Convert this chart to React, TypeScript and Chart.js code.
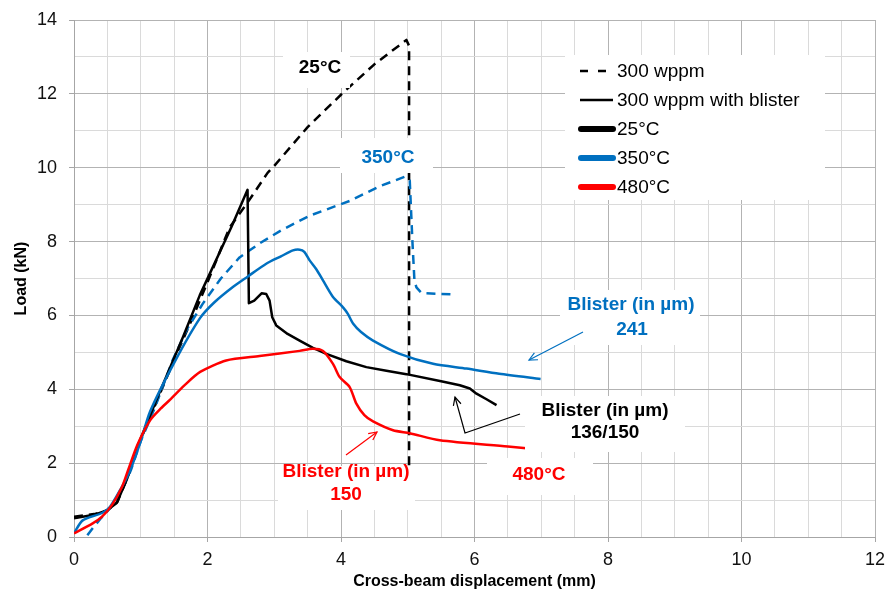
import React, { useEffect, useRef } from 'react';
import { Chart, registerables } from 'chart.js';

Chart.register(...registerables);

// ---------- data ----------
const xTickLabels = [0, 2, 4, 6, 8, 10, 12];
const yTickLabels = [0, 2, 4, 6, 8, 10, 12, 14];

// 25°C, 300 wppm (dashed black)
const dashed25X = [0.0, 0.3, 0.5, 0.65, 0.8, 0.95, 1.29, 1.54, 1.78, 2.03, 2.33, 2.59, 2.9, 3.0, 3.5, 4.03, 4.5, 4.98, 5.02, 5.02];
const dashed25Y = [0.55, 0.62, 0.72, 0.95, 1.6, 2.43, 3.89, 4.97, 5.95, 7.03, 8.38, 9.03, 9.86, 10.05, 11.1, 12.03, 12.8, 13.46, 13.3, 1.85];

// 350°C, 300 wppm (dashed blue)
const dashed350X = [0.2, 0.28, 0.4, 0.55, 0.7, 0.85, 1.0, 1.2, 1.48, 1.7, 1.93, 2.2, 2.48, 2.78, 3.1, 3.53, 4.13, 4.58, 4.95, 5.03, 5.07, 5.1, 5.13, 5.2, 5.28, 5.67];
const dashed350Y = [0.05, 0.24, 0.5, 0.8, 1.2, 1.8, 2.6, 3.45, 4.8, 5.65, 6.32, 7.0, 7.57, 7.95, 8.3, 8.7, 9.1, 9.5, 9.75, 9.65, 8.0, 6.95, 6.76, 6.62, 6.6, 6.57];

// 25°C, 300 wppm with blister (solid black)
const blister25X = [0.0, 0.3, 0.49, 0.64, 0.8, 0.95, 1.29, 1.63, 1.885, 2.36, 2.6, 2.62, 2.7, 2.81, 2.88, 2.93, 2.97, 3.03, 3.2, 3.38, 3.58, 3.78, 4.08, 4.38, 4.68, 4.98, 5.5, 5.78, 5.93, 6.03, 6.18, 6.33];
const blister25Y = [0.51, 0.6, 0.72, 0.92, 1.6, 2.45, 3.95, 5.4, 6.55, 8.4, 9.4, 6.33, 6.4, 6.6, 6.58, 6.4, 5.95, 5.73, 5.5, 5.32, 5.12, 4.96, 4.76, 4.6, 4.5, 4.41, 4.22, 4.11, 4.02, 3.88, 3.73, 3.57];

// 350°C, 300 wppm with blister (solid blue)
const blister350X = [0.0, 0.13, 0.42, 0.54, 0.7, 0.84, 1.0, 1.14, 1.51, 1.885, 2.1, 2.38, 2.6, 2.88, 3.1, 3.28, 3.38, 3.45, 3.53, 3.63, 3.73, 3.88, 4.03, 4.1, 4.18, 4.3, 4.48, 4.88, 5.38, 5.88, 6.37, 6.99];
const blister350Y = [0.1, 0.45, 0.65, 0.82, 1.3, 1.8, 2.6, 3.4, 4.75, 5.92, 6.35, 6.77, 7.05, 7.4, 7.6, 7.76, 7.78, 7.72, 7.49, 7.25, 6.95, 6.5, 6.22, 6.05, 5.78, 5.55, 5.32, 4.96, 4.69, 4.56, 4.42, 4.28];

// 480°C, 300 wppm with blister (solid red)
const blister480X = [0.0, 0.28, 0.42, 0.57, 0.72, 0.81, 0.95, 1.14, 1.3, 1.44, 1.65, 1.89, 2.28, 2.78, 3.38, 3.58, 3.73, 3.88, 3.98, 4.13, 4.23, 4.35, 4.48, 4.78, 5.03, 5.48, 6.5, 7.05];
const blister480Y = [0.1, 0.37, 0.55, 0.87, 1.36, 1.81, 2.5, 3.16, 3.48, 3.72, 4.1, 4.47, 4.78, 4.9, 5.04, 5.1, 5.04, 4.69, 4.33, 4.06, 3.61, 3.3, 3.13, 2.89, 2.81, 2.62, 2.45, 2.35];

const legendLabels = ['300 wppm', '300 wppm with blister', '25°C', '350°C', '480°C'];

// ---------- styles ----------
const FONT = '"Liberation Sans", Arial, sans-serif';
const BLACK = '#000000';
const BLUE = '#0070C0';
const RED = '#FF0000';
const MAJOR_GRID = '#b3b3b3';
const MINOR_GRID = '#dadada';
const AXIS = '#a6a6a6';

const zip = (xs: number[], ys: number[]) => xs.map((x, i) => ({ x, y: ys[i] }));

function arrowHead(ctx: CanvasRenderingContext2D, fx: number, fy: number, tx: number, ty: number, len = 9) {
  const a = Math.atan2(ty - fy, tx - fx);
  const s = 0.45;
  ctx.beginPath();
  ctx.moveTo(tx - len * Math.cos(a - s), ty - len * Math.sin(a - s));
  ctx.lineTo(tx, ty);
  ctx.lineTo(tx - len * Math.cos(a + s), ty - len * Math.sin(a + s));
  ctx.stroke();
}

const overlayPlugin = {
  id: 'overlay',
  afterDraw(chart: any) {
    const ctx: CanvasRenderingContext2D = chart.ctx;
    ctx.save();

    // ----- legend -----
    ctx.fillStyle = '#ffffff';
    ctx.fillRect(565, 55, 260, 145);
    const rows = [71, 100, 129, 158, 187];
    const lx0 = 580, lx1 = 613, tx = 617;
    ctx.strokeStyle = BLACK;
    ctx.lineWidth = 2.5;
    ctx.setLineDash([8, 10]);
    ctx.beginPath(); ctx.moveTo(lx0, rows[0]); ctx.lineTo(607, rows[0]); ctx.stroke();
    ctx.setLineDash([]);
    ctx.beginPath(); ctx.moveTo(lx0, rows[1]); ctx.lineTo(lx1, rows[1]); ctx.stroke();
    const thick = [BLACK, BLUE, RED];
    ctx.lineWidth = 6;
    ctx.lineCap = 'round';
    thick.forEach((c, i) => {
      ctx.strokeStyle = c;
      ctx.beginPath(); ctx.moveTo(lx0 + 1, rows[2 + i]); ctx.lineTo(lx1, rows[2 + i]); ctx.stroke();
    });
    ctx.lineCap = 'butt';
    ctx.fillStyle = BLACK;
    ctx.font = `19px ${FONT}`;
    ctx.textAlign = 'left';
    ctx.textBaseline = 'middle';
    legendLabels.forEach((t, i) => ctx.fillText(t, tx, rows[i] + 1));

    // ----- annotation boxes -----
    const boxes: [number, number, number, number][] = [
      [283, 52, 67, 36],   // 25°C
      [340, 138, 93, 35],  // 350°C
      [560, 290, 140, 55], // blister blue
      [525, 396, 160, 56], // blister black
      [487, 458, 106, 37], // 480°C
      [278, 466, 137, 44], // blister red
    ];
    ctx.fillStyle = '#ffffff';
    boxes.forEach(([x, y, w, h]) => ctx.fillRect(x, y, w, h));

    ctx.font = `bold 19px ${FONT}`;
    ctx.textAlign = 'center';
    ctx.textBaseline = 'middle';
    const texts: [string, number, number, string][] = [
      ['25°C', 320, 68, BLACK],
      ['350°C', 388, 158, BLUE],
      ['Blister (in µm)', 631, 305, BLUE],
      ['241', 632, 330, BLUE],
      ['Blister (in µm)', 605, 411, BLACK],
      ['136/150', 605, 433, BLACK],
      ['480°C', 539, 475, RED],
      ['Blister (in µm)', 346, 472, RED],
      ['150', 346, 495, RED],
    ];
    texts.forEach(([t, x, y, c]) => { ctx.fillStyle = c; ctx.fillText(t, x, y); });

    // ----- arrows -----
    ctx.lineWidth = 1.2;
    ctx.strokeStyle = RED;
    ctx.beginPath(); ctx.moveTo(346, 455); ctx.lineTo(377, 432); ctx.stroke();
    arrowHead(ctx, 346, 455, 377, 432);
    ctx.strokeStyle = BLUE;
    ctx.beginPath(); ctx.moveTo(583, 332); ctx.lineTo(529, 360); ctx.stroke();
    arrowHead(ctx, 583, 332, 529, 360);
    ctx.strokeStyle = BLACK;
    ctx.beginPath(); ctx.moveTo(520, 414); ctx.lineTo(465, 433); ctx.lineTo(455, 397); ctx.stroke();
    arrowHead(ctx, 465, 433, 455, 397);

    // ----- axis titles -----
    ctx.fillStyle = BLACK;
    ctx.font = `bold 16px ${FONT}`;
    ctx.textAlign = 'center';
    ctx.textBaseline = 'middle';
    const ca = chart.chartArea;
    ctx.fillText('Cross-beam displacement (mm)', (ca.left + ca.right) / 2, 582);
    ctx.translate(22, (ca.top + ca.bottom) / 2);
    ctx.rotate(-Math.PI / 2);
    ctx.fillText('Load (kN)', 0, 0);
    ctx.restore();
  },
};

export default function App() {
  const ref = useRef<HTMLCanvasElement | null>(null);

  useEffect(() => {
    if (!ref.current) return;
    const line = (data: any, color: string, dashed: boolean, tension: number) => ({
      data,
      borderColor: color,
      backgroundColor: color,
      borderWidth: 2.5,
      borderDash: dashed ? [9, 6] : [],
      pointRadius: 0,
      tension,
      fill: false,
      borderJoinStyle: 'round' as const,
    });
    const chart = new Chart(ref.current, {
      type: 'line',
      data: {
        datasets: [
          line(zip(blister480X, blister480Y), RED, false, 0.25),
          line(zip(blister350X, blister350Y), BLUE, false, 0.25),
          line(zip(blister25X, blister25Y), BLACK, false, 0),
          line(zip(dashed350X, dashed350Y), BLUE, true, 0),
          line(zip(dashed25X, dashed25Y), BLACK, true, 0),
        ],
      },
      options: {
        animation: false,
        responsive: true,
        maintainAspectRatio: false,
        devicePixelRatio: 1,
        events: [],
        layout: { padding: { left: 0, right: 14, top: 20, bottom: 0 } },
        plugins: { legend: { display: false }, tooltip: { enabled: false } },
        scales: {
          x: {
            type: 'linear',
            min: 0,
            max: 12,
            afterFit: (s: any) => { s.height = 61; s.paddingRight = 0; s.paddingLeft = 0; },
            ticks: {
              stepSize: 0.5,
              autoSkip: false,
              maxRotation: 0,
              minRotation: 0,
              padding: 7,
              color: '#111',
              font: { family: FONT, size: 18 },
              callback: (v: any) => (xTickLabels.includes(Number(v)) ? String(v) : ''),
            },
            grid: {
              color: (c: any) => (xTickLabels.includes(c.tick?.value) ? MAJOR_GRID : MINOR_GRID),
              tickColor: (c: any) => (xTickLabels.includes(c.tick?.value) ? AXIS : 'rgba(0,0,0,0)'),
              tickLength: 5,
              lineWidth: 1,
            },
            border: { color: AXIS, width: 1 },
          },
          y: {
            type: 'linear',
            min: 0,
            max: 14,
            afterFit: (s: any) => { s.width = 74; s.paddingTop = 0; s.paddingBottom = 0; },
            ticks: {
              stepSize: 1,
              autoSkip: false,
              padding: 12,
              color: '#111',
              font: { family: FONT, size: 18 },
              callback: (v: any) => (yTickLabels.includes(Number(v)) ? String(v) : ''),
            },
            grid: {
              color: (c: any) => (yTickLabels.includes(c.tick?.value) ? MAJOR_GRID : MINOR_GRID),
              tickColor: (c: any) => (yTickLabels.includes(c.tick?.value) ? AXIS : 'rgba(0,0,0,0)'),
              tickLength: 5,
              lineWidth: 1,
            },
            border: { color: AXIS, width: 1 },
          },
        },
      },
      plugins: [overlayPlugin],
    } as any);
    return () => chart.destroy();
  }, []);

  return (
    <div style={{ position: 'absolute', left: 0, top: 0, width: 889, height: 598, background: '#fff' }}>
      <canvas ref={ref} />
    </div>
  );
}
